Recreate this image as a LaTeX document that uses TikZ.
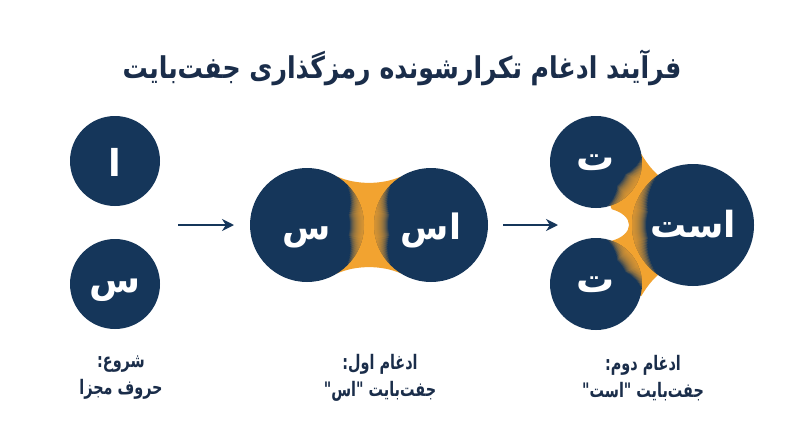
\documentclass[tikz,border=0pt]{standalone}
\usepackage{fontspec}
\newfontfamily\fa[Script=Arabic]{DejaVu Sans}
\TeXXeTstate=1
\usetikzlibrary{arrows.meta}
\definecolor{navy}{HTML}{15365A}
\definecolor{orng}{HTML}{F2A330}
\definecolor{ttl}{HTML}{1A2D4A}
\newcommand\myglow[4]{%
  \begin{scope}
    \clip (#1.center) circle[radius=#2];
    \foreach \k in {1,...,14}{
      \pgfmathsetmacro\lw{2*\k}
      \pgfmathsetmacro\hs{#4*(1.1-0.055*\k)}
      \draw[orng, line width=\lw, opacity=0.14] (#1.center) ++(#3-\hs:#2) arc[start angle=#3-\hs, end angle=#3+\hs, radius=#2];
    }
  \end{scope}}
\newcommand\gl[2]{\raisebox{-#1pt}[0pt][0pt]{#2}}
\newcommand\lb[1]{\scalebox{0.72}[1]{\beginR #1\endR}}
\begin{document}
\begin{tikzpicture}[x=1pt,y=-1pt,
  circ/.style={circle, fill=navy, inner sep=0pt, text=white, font=\fa\bfseries\fontsize{37}{40}\selectfont},
  lbl/.style={align=center, text=ttl, font=\fa\bfseries\fontsize{20}{27}\selectfont},
  arr/.style={navy, line width=2.2pt, -{Stealth[length=12pt,width=12pt]}}]
\fill[white] (0,0) rectangle (800,447);
\useasboundingbox (0,0) rectangle (800,447);
% title
\node[text=ttl, font=\fa\bfseries\fontsize{30}{34}\selectfont] (title) at (402,68) {\scalebox{0.84}[1]{\beginR فرآیند ادغام تکرارشونده رمزگذاری جفت^^^^200cبایت\endR}};
% orange bridges
\fill[orng] (337,176.5) .. controls (356,185) and (382,185) .. (401,176.5) -- (431,225) -- (401,273.5) .. controls (382,265) and (356,265) .. (337,273.5) -- (307,225) -- cycle;
\fill[orng] (641.3,154) .. controls (646,162) and (652,170) .. (658,175) -- (693,225) -- (658,275) .. controls (652,280) and (646,288) .. (641.3,296) -- (596,284) -- (611.7,240.8) .. controls (622,238) and (629,232) .. (629,225) .. controls (629,218) and (622,212) .. (611.7,209.2) -- (596,162) -- cycle;
% circles
\node[circ, minimum size=90pt] (a1) at (115,161) {\gl{15}{ا}};
\node[circ, minimum size=90pt] (a2) at (115,284) {\gl{8}{س}};
\node[circ, minimum size=114pt, font=\fa\bfseries\fontsize{35}{40}\selectfont] (b1) at (307,225) {\gl{14}{س}};
\node[circ, minimum size=114pt, font=\fa\bfseries\fontsize{35}{40}\selectfont] (b2) at (431,225) {\gl{14}{اس}};
\node[circ, minimum size=92pt, font=\fa\bfseries\fontsize{38}{40}\selectfont] (c1) at (596,162) {\gl{8}{ت}};
\node[circ, minimum size=92pt, font=\fa\bfseries\fontsize{38}{40}\selectfont] (c2) at (596,284) {\gl{8}{ت}};
\node[circ, minimum size=122pt, font=\fa\bfseries\fontsize{36}{42}\selectfont] (c3) at (693,225) {\gl{12}{است}};
% glows
\myglow{b1}{57}{0}{42}
\myglow{b2}{57}{180}{42}
\myglow{c1}{46}{35}{38}
\myglow{c2}{46}{-35}{38}
\myglow{c3}{61}{180}{50}
% arrows
\coordinate (p1) at (178,225);
\coordinate (p2) at (234,225);
\coordinate (q1) at (503,225);
\coordinate (q2) at (558,225);
\draw[arr] (p1) -- (p2);
\draw[arr] (q1) -- (q2);
% labels
\node[lbl] (l1) at (121,378) {\lb{شروع:}\\\lb{حروف مجزا}};
\node[lbl] (l2) at (380,378) {\lb{ادغام اول:}\\\lb{جفت^^^^200cبایت "اس"}};
\node[lbl] (l3) at (643,378) {\lb{ادغام دوم:}\\\lb{جفت^^^^200cبایت "است"}};
\end{tikzpicture}
\end{document}
